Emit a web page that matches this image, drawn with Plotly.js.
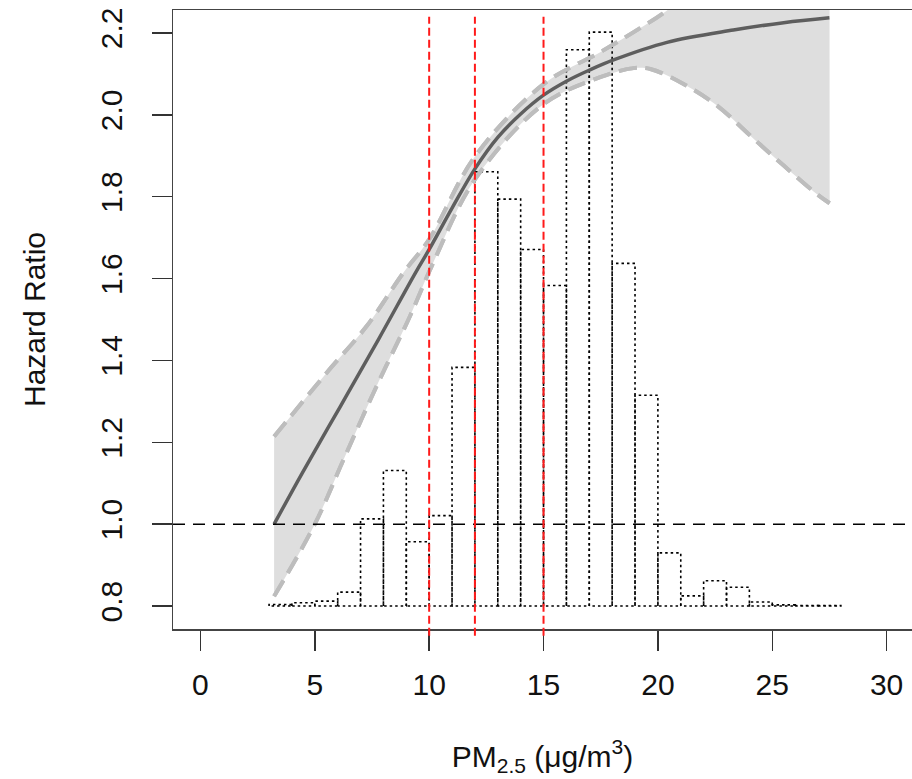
<!DOCTYPE html>
<html>
<head>
<meta charset="utf-8">
<script src="https://cdn.plot.ly/plotly-3.0.1.min.js"></script>
<style>html,body{margin:0;padding:0;background:#fff;overflow:hidden}</style>
</head>
<body>
<div id="chart" style="width:912px;height:779px"></div>
<script>
// Fitted hazard ratio curve
const curveX = [3.22, 4.45, 6.12, 7.78, 9.40, 10.0, 11.0, 12.0, 13.0, 14.0, 15.0, 16.0, 17.04, 18.06, 20.4, 23.3, 25.5, 27.5];
const curveHR = [1.000, 1.125, 1.288, 1.451, 1.614, 1.671, 1.772, 1.868, 1.945, 2.002, 2.048, 2.082, 2.110, 2.134, 2.177, 2.207, 2.225, 2.237];

// Upper confidence limit
const upperX = [3.22, 5.52, 7.27, 8.87, 10.0, 12.0, 15.0, 17.48, 18.94, 20.4, 22.0, 25.0, 27.5];
const upperHR = [1.214, 1.37, 1.484, 1.614, 1.696, 1.898, 2.075, 2.153, 2.202, 2.255, 2.33, 2.48, 2.62];

// Lower confidence limit
const lowerX = [3.22, 5.0, 6.25, 7.7, 9.16, 10.18, 12.0, 15.0, 17.48, 18.94, 19.67, 21.1, 22.6, 24.04, 25.5, 26.96, 27.51];
const lowerHR = [0.824, 1.0, 1.157, 1.337, 1.508, 1.639, 1.842, 2.026, 2.092, 2.114, 2.112, 2.076, 2.022, 1.949, 1.876, 1.806, 1.784];

// Exposure distribution (histogram scaled onto the HR axis)
const binEdges = [3,4,5,6,7,8,9,10,11,12,13,14,15,16,17,18,19,20,21,22,23,24,25,26,27,28];
const binTops = [0.804, 0.808, 0.812, 0.834, 1.013, 1.131, 0.957, 1.021, 1.383, 1.861, 1.794, 1.671, 1.583, 2.159, 2.202, 1.637, 1.315, 0.930, 0.825, 0.862, 0.846, 0.810, 0.803, 0.801, 0.801];
const histBase = 0.8;

// Reference lines
const thresholds = [10, 12, 15];
const referenceHR = 1.0;

// Axis ticks
const xTicks = [0, 5, 10, 15, 20, 25, 30];
const yTicks = [0.8, 1.0, 1.2, 1.4, 1.6, 1.8, 2.0, 2.2];

// Build histogram outline path
const hx = [], hy = [];
for (let i = 0; i < binTops.length; i++) {
  const x0 = binEdges[i], x1 = binEdges[i + 1], h = binTops[i];
  hx.push(x0, x0, x1, x1, x0, null);
  hy.push(histBase, h, h, histBase, histBase, null);
}

const bandLine = {color: '#bdbdbd', width: 4, dash: '18px,9px', shape: 'spline'};

const traces = [
  {x: lowerX, y: lowerHR, type: 'scatter', mode: 'lines', line: bandLine},
  {x: upperX, y: upperHR, type: 'scatter', mode: 'lines', line: bandLine,
   fill: 'tonexty', fillcolor: '#dedede'},
  {x: hx, y: hy, type: 'scatter', mode: 'lines',
   line: {color: '#000', width: 1.6, dash: '2.5px,3px'}},
  {x: lowerX, y: lowerHR, type: 'scatter', mode: 'lines', line: bandLine},
  {x: upperX, y: upperHR, type: 'scatter', mode: 'lines', line: bandLine},
  {x: curveX, y: curveHR, type: 'scatter', mode: 'lines',
   line: {color: '#5e5e5e', width: 3.5, shape: 'spline'}}
];

const shapes = [
  {type: 'line', xref: 'paper', yref: 'y', x0: 0, x1: 1, y0: referenceHR, y1: referenceHR,
   line: {color: '#000', width: 1.5, dash: '12px,8px'}, layer: 'above'}
];
thresholds.forEach(t => shapes.push({
  type: 'line', xref: 'x', yref: 'paper', x0: t, x1: t, y0: -0.011, y1: 0.989,
  line: {color: '#ff1a1a', width: 2, dash: '8px,4px'}, layer: 'above'
}));

const font = {family: 'Liberation Sans, Arial, sans-serif', size: 30, color: '#111'};

const layout = {
  width: 912, height: 779,
  margin: {l: 173, r: 0, t: 10, b: 150, pad: 0},
  paper_bgcolor: '#fff', plot_bgcolor: '#fff',
  showlegend: false,
  font: font,
  xaxis: {
    range: [-1.2, 31.11], tickvals: xTicks, ticktext: xTicks.map(String),
    ticks: 'outside', ticklen: 20, tickwidth: 1.5, tickcolor: '#333',
    showline: true, mirror: true, linecolor: '#444', linewidth: 1.5,
    showgrid: false, zeroline: false, tickfont: font, ticklabelstandoff: 8,
    title: {text: 'PM<sub>2.5</sub> (μg/m<sup>3</sup>)', font: font, standoff: 46}
  },
  yaxis: {
    range: [0.744, 2.256], tickvals: yTicks, ticktext: yTicks.map(v => v.toFixed(1)),
    tickangle: -90,
    ticks: 'outside', ticklen: 20, tickwidth: 1.5, tickcolor: '#333',
    showline: true, mirror: false, linecolor: '#444', linewidth: 1.5,
    showgrid: false, zeroline: false, tickfont: font, ticklabelstandoff: 18,
    title: {text: 'Hazard Ratio', font: font, standoff: 40}
  },
  shapes: shapes
};

Plotly.newPlot('chart', traces, layout, {displayModeBar: false, staticPlot: true});
</script>
</body>
</html>
